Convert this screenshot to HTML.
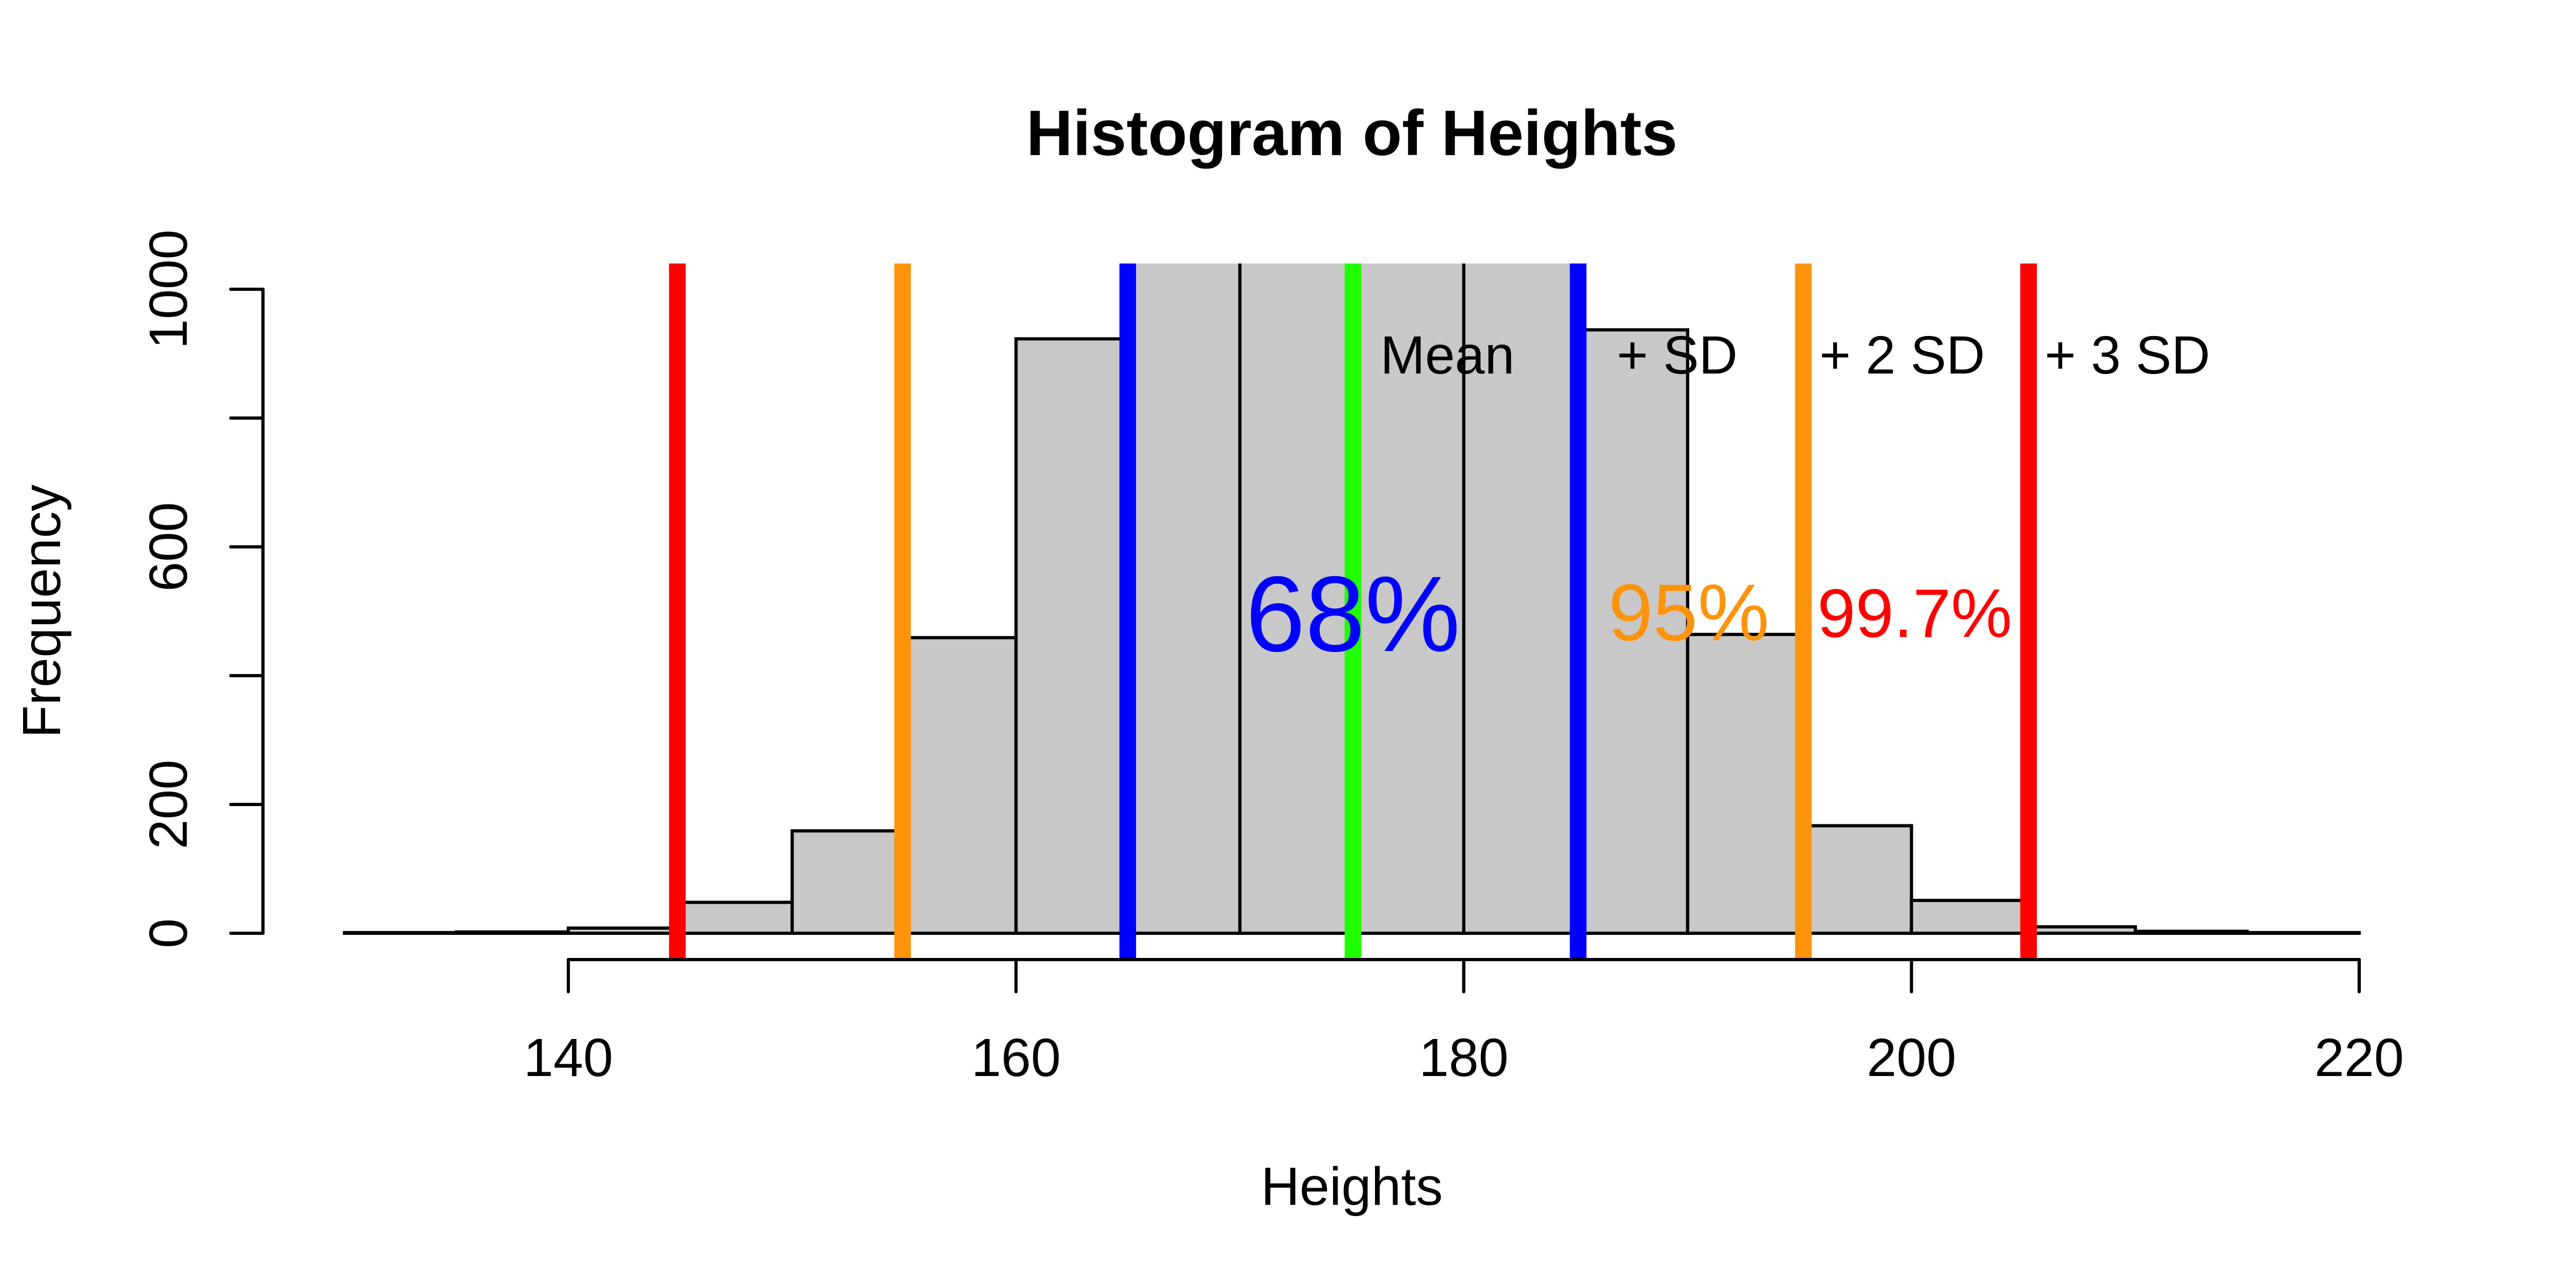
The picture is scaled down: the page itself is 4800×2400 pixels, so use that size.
<!DOCTYPE html>
<html><head><meta charset="utf-8"><style>
html,body{margin:0;padding:0;background:#fff;}
svg{display:block;font-family:"Liberation Sans",Arial,sans-serif;}
</style></head><body>
<svg id="chart" width="4800" height="2400" viewBox="0 0 4800 2400" xmlns="http://www.w3.org/2000/svg">
<defs><clipPath id="plotclip"><rect x="492" y="491" width="4054" height="1297"/></clipPath></defs>
<rect width="4800" height="2400" fill="#fff"/>
<g id="bars" clip-path="url(#plotclip)"></g>
<g id="vlines" clip-path="url(#plotclip)"></g>
<g id="axes"></g>
<g id="labels"></g>
<text x="2519" y="289" font-size="120" font-weight="bold" text-anchor="middle">Histogram of Heights</text>
<text x="2519" y="2245" font-size="100" text-anchor="middle">Heights</text>
<text x="0" y="0" font-size="100" text-anchor="middle" transform="translate(112,1139) rotate(-90)">Frequency</text>
</svg>
<script>
const binStarts = [130,135,140,145,150,155,160,165,170,175,180,185,190,195,200,205,210,215];
const binCounts = [1,2,8,48,159,459,923,1250,1400,1400,1250,937,464,167,51,10,3,1];
const binWidth = 5;
const xTicks = [140,160,180,200,220];
const yTicks = [0,200,400,600,800,1000];
const yTickLabels = ["0","200","","600","","1000"];
const meanValue = 175.05;
const sdValue = 10.06;
const lineMultipliers = [-3,-2,-1,0,1,2,3];
const lineColors = ["#ff0000","#fe940c","#0000ff","#20ff00","#0000ff","#fe940c","#ff0000"];
const sdLabels = ["Mean","+ SD","+ 2 SD","+ 3 SD"];
const pctLabels = ["68%","95%","99.7%"];

const NS="http://www.w3.org/2000/svg";
function X(v){return 1059+(v-140)*41.7125;}
function Y(v){return 1739-v*1.2;}
function mk(tag,attrs,parent){const e=document.createElementNS(NS,tag);for(const k in attrs)e.setAttribute(k,attrs[k]);parent.appendChild(e);return e;}

const gb=document.getElementById('bars');
binStarts.forEach((s,i)=>{
  const x0=X(s),x1=X(s+binWidth),y=Y(binCounts[i]);
  const r=mk('rect',{x:x0,y:y,width:x1-x0,height:Y(0)-y,fill:'#c8c8c8',stroke:'#000','stroke-width':6},gb);
  
  
});

const gv=document.getElementById('vlines');
lineMultipliers.forEach((m,i)=>{
  const xv=X(meanValue+m*sdValue);
  const l=mk('line',{x1:xv,x2:xv,y1:480,y2:1788,stroke:lineColors[i],'stroke-width':31},gv);
  
  
});

const ga=document.getElementById('axes');
const xa=mk('line',{x1:X(xTicks[0]),x2:X(xTicks[xTicks.length-1]),y1:1788,y2:1788,stroke:'#000','stroke-width':6,'stroke-linecap':'round'},ga);


xTicks.forEach(t=>{
  const tk=mk('line',{x1:X(t),x2:X(t),y1:1788,y2:1848,stroke:'#000','stroke-width':6,'stroke-linecap':'round'},ga);
  
  
  const tx=mk('text',{x:X(t),y:2005,'font-size':100,'text-anchor':'middle'},ga);
  tx.textContent=t;
  
  
});
const ya=mk('line',{x1:490,x2:490,y1:Y(yTicks[0]),y2:Y(yTicks[yTicks.length-1]),stroke:'#000','stroke-width':6,'stroke-linecap':'round'},ga);


yTicks.forEach((t,i)=>{
  const tk=mk('line',{x1:430,x2:490,y1:Y(t),y2:Y(t),stroke:'#000','stroke-width':6,'stroke-linecap':'round'},ga);
  
  
  if(yTickLabels[i]){
    const tx=mk('text',{x:0,y:0,'font-size':100,'text-anchor':'middle',transform:'translate(348,'+Y(t)+') rotate(-90)'},ga);
    tx.textContent=yTickLabels[i];
    
    
  }
});

const gl=document.getElementById('labels');
const labelOffsets=[51,72,30,30];
sdLabels.forEach((s,i)=>{
  const tx=mk('text',{x:X(meanValue+i*sdValue)+labelOffsets[i],y:696,'font-size':100},gl);
  tx.textContent=s;
  
  
});
const p1=mk('text',{x:X(meanValue),y:1213,'font-size':200,'text-anchor':'middle',fill:'#0000ff'},gl);
p1.textContent=pctLabels[0];


const p2=mk('text',{x:X(meanValue+sdValue)+56,y:1193,'font-size':150,fill:'#fe940c'},gl);
p2.textContent=pctLabels[1];


const p3=mk('text',{x:X(meanValue+2*sdValue)+26,y:1187,'font-size':128,fill:'#ff0000'},gl);
p3.textContent=pctLabels[2];


</script>
</body></html>
